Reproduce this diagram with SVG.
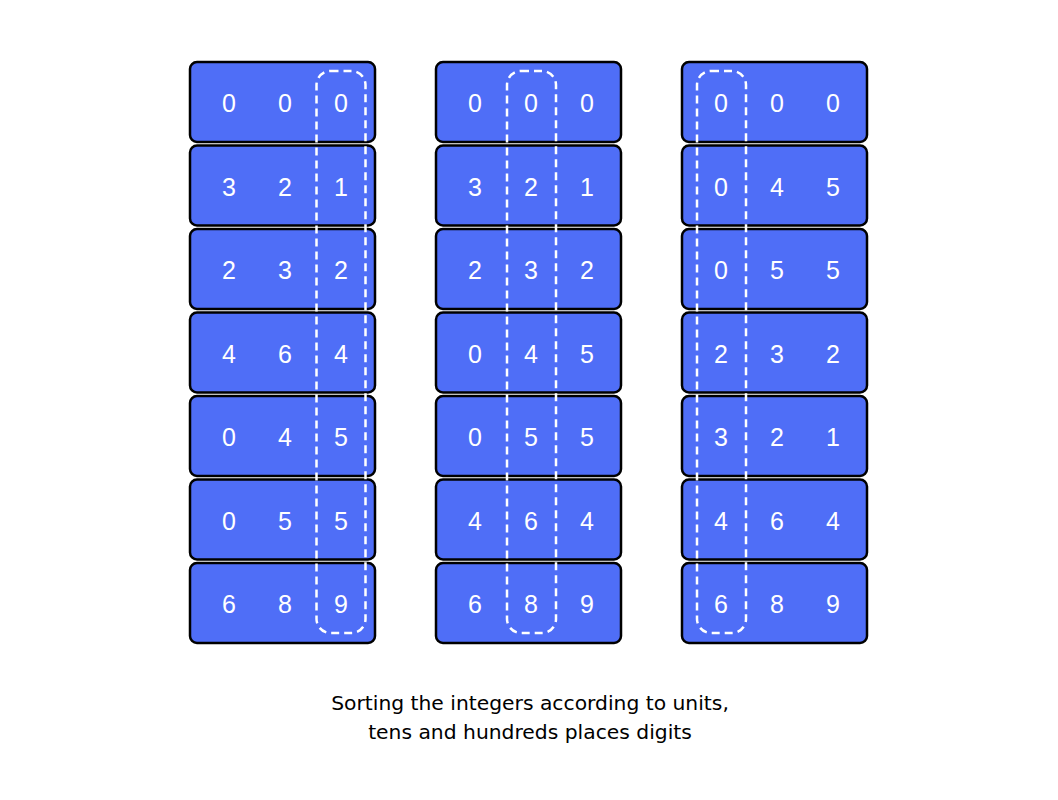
<svg xmlns="http://www.w3.org/2000/svg" width="1058" height="800" viewBox="0 0 1058 800">
<style>
.c{fill:#4f6ef7;stroke:#000;stroke-width:2.5}
.d{font-family:"Liberation Sans",Arial,sans-serif;font-size:25px;fill:#fff;text-anchor:middle;dominant-baseline:central}
.h{fill:none;stroke:#fff;stroke-width:2.5;stroke-dasharray:8 5}
.t{font-family:"DejaVu Sans",sans-serif;font-size:20.3px;fill:#000;text-anchor:middle}
</style>
<rect width="1058" height="800" fill="#fff"/>
<g id="col1">
<g id="c1r1"><rect class="c" x="190" y="62" width="185" height="80" rx="7"/><text class="d" x="229" y="103">0</text><text class="d" x="285" y="103">0</text><text class="d" x="341" y="103">0</text></g>
<g id="c1r2"><rect class="c" x="190" y="145.5" width="185" height="80" rx="7"/><text class="d" x="229" y="186.5">3</text><text class="d" x="285" y="186.5">2</text><text class="d" x="341" y="186.5">1</text></g>
<g id="c1r3"><rect class="c" x="190" y="229" width="185" height="80" rx="7"/><text class="d" x="229" y="270">2</text><text class="d" x="285" y="270">3</text><text class="d" x="341" y="270">2</text></g>
<g id="c1r4"><rect class="c" x="190" y="312.5" width="185" height="80" rx="7"/><text class="d" x="229" y="353.5">4</text><text class="d" x="285" y="353.5">6</text><text class="d" x="341" y="353.5">4</text></g>
<g id="c1r5"><rect class="c" x="190" y="396" width="185" height="80" rx="7"/><text class="d" x="229" y="437">0</text><text class="d" x="285" y="437">4</text><text class="d" x="341" y="437">5</text></g>
<g id="c1r6"><rect class="c" x="190" y="479.5" width="185" height="80" rx="7"/><text class="d" x="229" y="520.5">0</text><text class="d" x="285" y="520.5">5</text><text class="d" x="341" y="520.5">5</text></g>
<g id="c1r7"><rect class="c" x="190" y="563" width="185" height="80" rx="7"/><text class="d" x="229" y="604">6</text><text class="d" x="285" y="604">8</text><text class="d" x="341" y="604">9</text></g>
<rect id="h1" class="h" x="316.5" y="71" width="49" height="562" rx="14"/>
</g>
<g id="col2">
<g id="c2r1"><rect class="c" x="436" y="62" width="185" height="80" rx="7"/><text class="d" x="475" y="103">0</text><text class="d" x="531" y="103">0</text><text class="d" x="587" y="103">0</text></g>
<g id="c2r2"><rect class="c" x="436" y="145.5" width="185" height="80" rx="7"/><text class="d" x="475" y="186.5">3</text><text class="d" x="531" y="186.5">2</text><text class="d" x="587" y="186.5">1</text></g>
<g id="c2r3"><rect class="c" x="436" y="229" width="185" height="80" rx="7"/><text class="d" x="475" y="270">2</text><text class="d" x="531" y="270">3</text><text class="d" x="587" y="270">2</text></g>
<g id="c2r4"><rect class="c" x="436" y="312.5" width="185" height="80" rx="7"/><text class="d" x="475" y="353.5">0</text><text class="d" x="531" y="353.5">4</text><text class="d" x="587" y="353.5">5</text></g>
<g id="c2r5"><rect class="c" x="436" y="396" width="185" height="80" rx="7"/><text class="d" x="475" y="437">0</text><text class="d" x="531" y="437">5</text><text class="d" x="587" y="437">5</text></g>
<g id="c2r6"><rect class="c" x="436" y="479.5" width="185" height="80" rx="7"/><text class="d" x="475" y="520.5">4</text><text class="d" x="531" y="520.5">6</text><text class="d" x="587" y="520.5">4</text></g>
<g id="c2r7"><rect class="c" x="436" y="563" width="185" height="80" rx="7"/><text class="d" x="475" y="604">6</text><text class="d" x="531" y="604">8</text><text class="d" x="587" y="604">9</text></g>
<rect id="h2" class="h" x="507" y="71" width="49" height="562" rx="14"/>
</g>
<g id="col3">
<g id="c3r1"><rect class="c" x="682" y="62" width="185" height="80" rx="7"/><text class="d" x="721" y="103">0</text><text class="d" x="777" y="103">0</text><text class="d" x="833" y="103">0</text></g>
<g id="c3r2"><rect class="c" x="682" y="145.5" width="185" height="80" rx="7"/><text class="d" x="721" y="186.5">0</text><text class="d" x="777" y="186.5">4</text><text class="d" x="833" y="186.5">5</text></g>
<g id="c3r3"><rect class="c" x="682" y="229" width="185" height="80" rx="7"/><text class="d" x="721" y="270">0</text><text class="d" x="777" y="270">5</text><text class="d" x="833" y="270">5</text></g>
<g id="c3r4"><rect class="c" x="682" y="312.5" width="185" height="80" rx="7"/><text class="d" x="721" y="353.5">2</text><text class="d" x="777" y="353.5">3</text><text class="d" x="833" y="353.5">2</text></g>
<g id="c3r5"><rect class="c" x="682" y="396" width="185" height="80" rx="7"/><text class="d" x="721" y="437">3</text><text class="d" x="777" y="437">2</text><text class="d" x="833" y="437">1</text></g>
<g id="c3r6"><rect class="c" x="682" y="479.5" width="185" height="80" rx="7"/><text class="d" x="721" y="520.5">4</text><text class="d" x="777" y="520.5">6</text><text class="d" x="833" y="520.5">4</text></g>
<g id="c3r7"><rect class="c" x="682" y="563" width="185" height="80" rx="7"/><text class="d" x="721" y="604">6</text><text class="d" x="777" y="604">8</text><text class="d" x="833" y="604">9</text></g>
<rect id="h3" class="h" x="697" y="71" width="49" height="562" rx="14"/>
</g>
<g id="connectors"/>
<g id="caption">
<text class="t" x="530" y="710">Sorting the integers according to units,</text>
<text class="t" x="530" y="739">tens and hundreds places digits</text>
</g>
</svg>
